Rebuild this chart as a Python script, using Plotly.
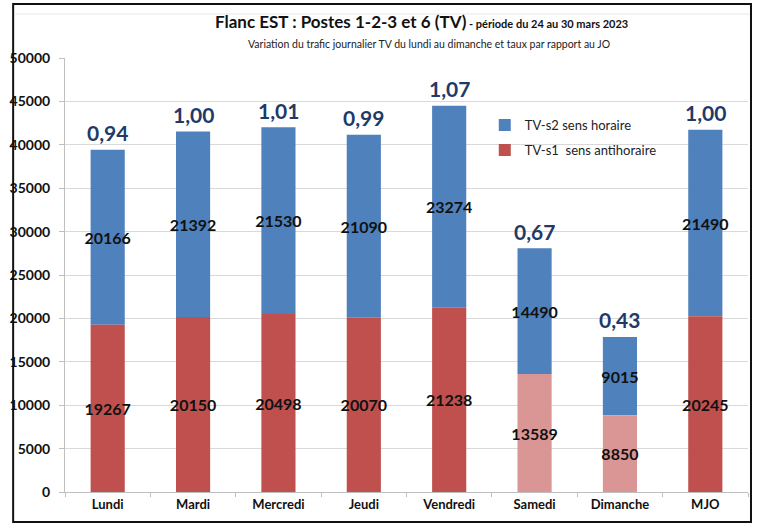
import plotly.graph_objects as go

categories = ["Lundi", "Mardi", "Mercredi", "Jeudi", "Vendredi", "Samedi", "Dimanche", "MJO"]
s1_values = [19267, 20150, 20498, 20070, 21238, 13589, 8850, 20245]   # TV-s1 sens antihoraire
s2_values = [20166, 21392, 21530, 21090, 23274, 14490, 9015, 21490]   # TV-s2 sens horaire
ratio_labels = ["0,94", "1,00", "1,01", "0,99", "1,07", "0,67", "0,43", "1,00"]
y_ticks = [0, 5000, 10000, 15000, 20000, 25000, 30000, 35000, 40000, 45000, 50000]

RED = "#C0504D"
RED_LIGHT = "#DA9694"
BLUE = "#4F81BD"
FONT = "Lato"

s1_colors = [RED_LIGHT if c in ("Samedi", "Dimanche") else RED for c in categories]
totals = [a + b for a, b in zip(s1_values, s2_values)]

fig = go.Figure()
fig.add_trace(go.Bar(
    x=categories, y=s2_values, name="TV-s2 sens horaire", legend="legend",
    marker=dict(color=BLUE, line=dict(width=0)),
    base=s1_values,
    text=[str(v) for v in s2_values], textposition="inside",
    insidetextanchor="middle", constraintext="none", textangle=0,
    textfont=dict(family=FONT, size=16, color="#111111", weight="bold"),
    width=0.4,
))
fig.add_trace(go.Bar(
    x=categories, y=s1_values, name="TV-s1  sens antihoraire", legend="legend2",
    marker=dict(color=s1_colors, line=dict(width=0)),
    text=[str(v) for v in s1_values], textposition="inside",
    insidetextanchor="middle", constraintext="none", textangle=0,
    textfont=dict(family=FONT, size=16, color="#111111", weight="bold"),
    width=0.4,
))

L, R, T, B = 63, 748, 58, 492
W, H = 758, 526
pw, ph = R - L, B - T

def px(x):
    return (x - L) / pw

def py(y):
    return (B - y) / ph

annotations = [
    dict(x=c, y=t, xref="x", yref="y", text=lab, showarrow=False,
         yanchor="middle", yshift=17,
         font=dict(family=FONT, size=21, color="#1F3A68", weight="bold"))
    for c, t, lab in zip(categories, totals, ratio_labels)
]
annotations += [
    dict(xref="paper", yref="paper", x=px(421), y=py(22), xanchor="center", yanchor="middle",
         showarrow=False,
         text="<b>Flanc EST : Postes 1-2-3 et 6 (TV)</b><span style='font-size:11px'><b> - période du 24 au 30 mars 2023</b></span>",
         font=dict(family=FONT, size=17, color="#111111")),
    dict(xref="paper", yref="paper", x=px(428), y=py(44), xanchor="center", yanchor="middle",
         showarrow=False,
         text="Variation du trafic journalier TV du lundi au dimanche et taux par rapport au JO",
         font=dict(family=FONT, size=10.5, color="#222222")),
]

legend_style = dict(
    xanchor="left", yanchor="middle", bgcolor="rgba(0,0,0,0)",
    font=dict(family=FONT, size=13, color="#222222"), itemwidth=30,
)

fig.update_layout(
    width=W, height=H,
    margin=dict(l=L, r=W - R, t=T, b=H - B),
    barmode="overlay",
    paper_bgcolor="white", plot_bgcolor="white",
    font=dict(family=FONT, color="#111111"),
    showlegend=True,
    legend=dict(x=px(484), y=py(125), **legend_style),
    legend2=dict(x=px(484), y=py(150), **legend_style),
    xaxis=dict(
        showline=True, linecolor="#BFBFBF", linewidth=1,
        ticks="outside", tickson="boundaries", ticklen=4, tickcolor="#BFBFBF",
        tickfont=dict(family=FONT, size=13, color="#111111", weight="bold"),
        showgrid=False,
    ),
    yaxis=dict(
        range=[0, 50000], tickvals=y_ticks, tickformat="d",
        showline=True, linecolor="#BFBFBF", linewidth=1,
        ticks="outside", ticklen=5, tickcolor="#BFBFBF",
        ticklabelstandoff=6,
        showgrid=True, gridcolor="#D9D9D9", gridwidth=1,
        tickfont=dict(family=FONT, size=14, color="#111111", weight="bold"),
        zeroline=False,
    ),
    annotations=annotations,
    shapes=[
        dict(type="rect", xref="paper", yref="paper",
             x0=px(11), x1=px(751), y0=py(522), y1=py(4),
             line=dict(color="#111111", width=2), fillcolor="rgba(0,0,0,0)", layer="above"),
        dict(type="line", xref="paper", yref="paper",
             x0=px(12), x1=px(750), y0=py(14), y1=py(14),
             line=dict(color="#E6E6E6", width=1)),
    ],
)

fig.write_html(
    "out.html",
    config={"displayModeBar": False},
    post_script="document.body.style.margin='0';document.body.style.overflow='hidden';",
)
